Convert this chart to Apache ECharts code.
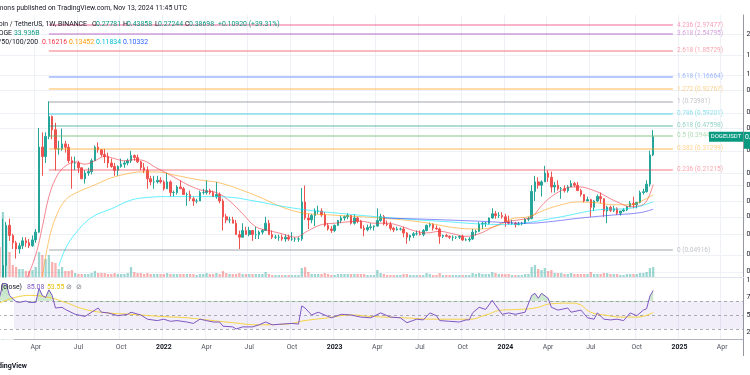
<!DOCTYPE html>
<html><head><meta charset="utf-8">
<script src="https://cdn.jsdelivr.net/npm/echarts@6/dist/echarts.min.js"></script>
<style>html,body{margin:0;padding:0;background:#fff;}#c{width:750px;height:375px;}</style>
</head><body><div id="c"></div>
<script>
// ---- data (weekly DOGE/USDT, first week 2021-01-18) ----
const firstWeek = [2021, 0, 18];
const weekCount = 227;
const opens = [
0.0098,0.0087,0.0370,0.0770,0.0640,0.0560,0.0500,0.0530,0.0580,0.0560,0.0530,0.0590,
0.0680,0.3210,0.2700,0.3900,0.5600,0.4400,0.3100,0.3100,0.3400,0.3200,0.2500,0.2400,
0.2400,0.2200,0.1800,0.2000,0.2050,0.2500,0.3200,0.3050,0.2800,0.2700,0.2400,0.2250,
0.2100,0.2250,0.2350,0.2400,0.2500,0.2750,0.2650,0.2450,0.2200,0.2100,0.1800,0.1700,0.1700,0.1750,
0.1700,0.1500,0.1700,0.1400,0.1400,0.1550,0.1500,0.1350,0.1350,0.1250,0.1200,0.1200,
0.1400,0.1400,0.1450,0.1400,0.1300,0.1350,0.1200,0.0900,0.0850,0.0850,0.0800,0.0650,
0.0620,0.0700,0.0650,0.0700,0.0650,0.0650,0.0680,0.0700,0.0800,0.0650,0.0620,0.0620,0.0620,0.0600,0.0620,0.0600,0.0600,0.0600,
0.0600,0.1180,0.0880,0.0850,0.0920,0.1000,0.1000,0.0930,0.0770,0.0720,
0.0700,0.0770,0.0840,0.0880,0.0900,0.0920,0.0800,0.0880,0.0830,0.0730,0.0710,0.0740,0.0750,0.0760,
0.0840,0.0900,0.0790,0.0780,0.0730,0.0710,0.0720,0.0720,0.0670,0.0620,0.0640,0.0660,0.0660,0.0650,
0.0700,0.0770,0.0780,0.0730,0.0720,0.0630,0.0640,0.0630,0.0620,0.0620,0.0620,0.0630,0.0590,0.0590,
0.0600,0.0680,0.0690,0.0790,0.0800,0.0800,0.0880,0.0950,0.0920,0.0920,
0.0900,0.0820,0.0800,0.0800,0.0780,0.0790,0.0800,0.0860,
0.0870,0.1430,0.1700,0.1600,0.1700,0.2000,0.1850,0.1550,0.1600,0.1500,0.1500,0.1450,0.1550,0.1650,
0.1600,0.1450,0.1350,0.1200,0.1230,0.1070,0.1200,0.1300,0.1250,0.1000,0.1070,0.1010,0.1040,0.0960,
0.1000,0.1020,0.1080,0.1150,0.1120,0.1170,0.1400,0.1420,0.1630,0.27781];
const highs = [
0.0102,0.0870,0.0820,0.0870,0.0660,0.0580,0.0560,0.0620,0.0620,0.0600,0.0640,0.0720,
0.4550,0.4200,0.4200,0.7400,0.5700,0.5000,0.3600,0.4500,0.3600,0.3400,0.2700,0.2700,
0.2500,0.2200,0.2100,0.2200,0.2600,0.3300,0.3500,0.3100,0.3100,0.2900,0.2600,0.2400,
0.2300,0.2600,0.2500,0.2600,0.3000,0.2800,0.2800,0.2500,0.2400,0.2250,0.1900,0.1900,0.1900,0.1850,
0.1750,0.2000,0.1750,0.1450,0.1600,0.1750,0.1550,0.1400,0.1450,0.1300,0.1250,0.1450,
0.1500,0.1750,0.1500,0.1450,0.1700,0.1400,0.1250,0.0950,0.0900,0.0900,0.0850,0.0700,
0.0800,0.0750,0.0750,0.0700,0.0750,0.0700,0.0720,0.0900,0.0850,0.0700,0.0650,0.0650,0.0650,0.0650,0.0650,0.0680,0.0620,0.0620,
0.1520,0.1590,0.0950,0.0950,0.1050,0.1100,0.1050,0.0980,0.0800,0.0760,
0.0780,0.0850,0.0920,0.0920,0.0960,0.0930,0.0940,0.0900,0.0850,0.0770,0.0780,0.0800,0.0770,0.1050,
0.0950,0.0930,0.0840,0.0820,0.0750,0.0750,0.0740,0.0750,0.0680,0.0650,0.0680,0.0700,0.0700,0.0720,
0.0780,0.0810,0.0800,0.0770,0.0740,0.0650,0.0660,0.0640,0.0640,0.0630,0.0640,0.0650,0.0610,0.0620,
0.0720,0.0710,0.0820,0.0820,0.0820,0.0890,0.1050,0.1000,0.0980,0.0980,
0.0950,0.0920,0.0850,0.0820,0.0820,0.0820,0.0880,0.0900,
0.1600,0.1900,0.1850,0.1750,0.2280,0.2100,0.2050,0.1700,0.1750,0.1550,0.1600,0.1600,0.1750,0.1700,
0.1700,0.1500,0.1350,0.1300,0.1250,0.1220,0.1350,0.1400,0.1260,0.1100,0.1100,0.1100,0.1070,0.1000,
0.1050,0.1100,0.1200,0.1300,0.1180,0.1450,0.1500,0.1750,0.3000,0.43858];
const lows = [
0.0076,0.0075,0.0290,0.0580,0.0500,0.0420,0.0460,0.0500,0.0520,0.0510,0.0520,0.0560,
0.0670,0.1900,0.2400,0.3700,0.3700,0.2100,0.2800,0.3000,0.2900,0.2400,0.1500,0.2100,
0.2000,0.1800,0.1650,0.1900,0.1950,0.2500,0.2900,0.2700,0.2400,0.2200,0.2200,0.1900,
0.1900,0.2200,0.2200,0.2300,0.2400,0.2500,0.2400,0.2100,0.2000,0.1500,0.1600,0.1500,0.1650,0.1650,
0.1450,0.1500,0.1300,0.1300,0.1350,0.1500,0.1350,0.1100,0.1200,0.1100,0.1150,0.1200,
0.1350,0.1350,0.1350,0.1300,0.1250,0.1150,0.0700,0.0800,0.0800,0.0800,0.0650,0.0500,
0.0620,0.0650,0.0630,0.0580,0.0600,0.0600,0.0650,0.0700,0.0650,0.0600,0.0600,0.0580,0.0580,0.0570,0.0580,0.0580,0.0570,0.0570,
0.0580,0.0850,0.0720,0.0800,0.0760,0.0950,0.0900,0.0750,0.0700,0.0670,
0.0680,0.0760,0.0800,0.0840,0.0860,0.0780,0.0780,0.0800,0.0730,0.0630,0.0690,0.0710,0.0700,0.0750,
0.0820,0.0770,0.0760,0.0700,0.0680,0.0700,0.0700,0.0620,0.0550,0.0580,0.0610,0.0640,0.0640,0.0630,
0.0690,0.0740,0.0700,0.0710,0.0550,0.0610,0.0620,0.0600,0.0580,0.0600,0.0600,0.0580,0.0580,0.0570,
0.0590,0.0640,0.0680,0.0720,0.0750,0.0780,0.0870,0.0870,0.0880,0.0870,
0.0750,0.0780,0.0780,0.0740,0.0770,0.0770,0.0790,0.0830,
0.0860,0.1200,0.1500,0.1300,0.1700,0.1700,0.1400,0.1400,0.1450,0.1250,0.1400,0.1400,0.1550,0.1550,
0.1450,0.1300,0.1170,0.1200,0.0900,0.1000,0.1180,0.1150,0.0900,0.0800,0.0980,0.0980,0.0930,0.0920,
0.0980,0.1000,0.1080,0.1050,0.1050,0.1150,0.1350,0.1400,0.1560,0.27244];
const closes = [
0.0087,0.0370,0.0770,0.0640,0.0560,0.0500,0.0530,0.0580,0.0560,0.0530,0.0590,0.0680,
0.3210,0.2700,0.3900,0.5600,0.4400,0.3100,0.3100,0.3400,0.3200,0.2500,0.2400,0.2400,
0.2200,0.1800,0.2000,0.2050,0.2500,0.3200,0.3050,0.2800,0.2700,0.2400,0.2250,0.2100,
0.2250,0.2350,0.2400,0.2500,0.2750,0.2650,0.2450,0.2200,0.2100,0.1800,0.1700,0.1700,0.1750,0.1700,
0.1500,0.1700,0.1400,0.1400,0.1550,0.1500,0.1350,0.1350,0.1250,0.1200,0.1200,0.1400,
0.1400,0.1450,0.1400,0.1300,0.1350,0.1200,0.0900,0.0850,0.0850,0.0800,0.0650,0.0620,
0.0700,0.0650,0.0700,0.0650,0.0650,0.0680,0.0700,0.0800,0.0650,0.0620,0.0620,0.0620,0.0600,0.0620,0.0600,0.0600,0.0600,0.0600,
0.1180,0.0880,0.0850,0.0920,0.1000,0.1000,0.0930,0.0770,0.0720,0.0700,
0.0770,0.0840,0.0880,0.0900,0.0920,0.0800,0.0880,0.0830,0.0730,0.0710,0.0740,0.0750,0.0760,0.0840,
0.0900,0.0790,0.0780,0.0730,0.0710,0.0720,0.0720,0.0670,0.0620,0.0640,0.0660,0.0660,0.0650,0.0700,
0.0770,0.0780,0.0730,0.0720,0.0630,0.0640,0.0630,0.0620,0.0620,0.0620,0.0630,0.0590,0.0590,0.0600,
0.0680,0.0690,0.0790,0.0800,0.0800,0.0880,0.0950,0.0920,0.0920,0.0900,
0.0820,0.0800,0.0800,0.0780,0.0790,0.0800,0.0860,0.0870,
0.1430,0.1700,0.1600,0.1700,0.2000,0.1850,0.1550,0.1600,0.1500,0.1500,0.1450,0.1550,0.1650,0.1600,
0.1450,0.1350,0.1200,0.1230,0.1070,0.1200,0.1300,0.1250,0.1000,0.1070,0.1010,0.1040,0.0960,0.1000,
0.1020,0.1080,0.1150,0.1120,0.1170,0.1400,0.1420,0.1630,0.2780,0.38698];
const volumes = [
30,65,50,25,12,10,8,8,6,6,7,10,
25,22,18,22,15,14,8,10,6,6,7,4,
3,3,3,3,4,6,4,4,4,3,3,4,
3,3,3,4,10,5,4,4,3,4,3,3,3,3,
3,4,3,3,3,3,3,3,3,3,2,3,
3,4,3,3,4,3,6,4,3,3,3,4,
3,3,3,3,3,3,3,5,3,2,2,2,2,2,2,2,2,2,
9,10,5,3,3,3,3,4,3,2,
2,3,3,3,3,3,3,3,3,3,2,2,2,7,
4,3,2,2,2,2,2,3,3,2,2,2,2,2,
4,3,2,2,4,2,2,2,2,2,2,2,2,2,
4,3,4,3,3,3,5,4,3,3,
3,3,2,2,2,2,3,3,
10,12,8,7,9,6,7,4,4,4,3,3,4,3,
3,3,3,3,5,3,3,3,4,4,3,3,3,2,
2,3,3,3,3,4,4,5,9,10];
// moving averages: [week index, price]
const sma20 = [[8,0.028],[11,0.045],[13,0.075],[15,0.13],[17,0.18],[19,0.215],[21,0.235],[23,0.245],[26,0.235],[29,0.25],[32,0.27],[35,0.26],[38,0.25],[41,0.255],[44,0.25],[47,0.225],[50,0.205],[54,0.18],[58,0.158],[62,0.145],[66,0.14],[70,0.12],[74,0.095],[78,0.075],[82,0.07],[86,0.066],[90,0.062],[94,0.07],[98,0.078],[102,0.08],[106,0.082],[110,0.083],[114,0.08],[118,0.08],[122,0.076],[126,0.07],[130,0.067],[134,0.069],[138,0.066],[142,0.063],[146,0.066],[150,0.074],[154,0.082],[158,0.085],[162,0.09],[165,0.11],[168,0.13],[171,0.145],[174,0.155],[177,0.155],[180,0.148],[183,0.138],[186,0.125],[189,0.115],[192,0.108],[195,0.11],[197,0.12],[199,0.16216]];
const sma50 = [[13,0.030],[15,0.059],[17,0.088],[20,0.122],[24,0.142],[29,0.161],[34,0.183],[40,0.20],[43,0.204],[48,0.204],[53,0.193],[61,0.176],[67,0.167],[76,0.139],[91,0.098],[101,0.093],[116,0.088],[128,0.082],[140,0.073],[146,0.072],[152,0.077],[156,0.087],[161,0.090],[166,0.102],[171,0.112],[176,0.118],[182,0.116],[187,0.112],[192,0.112],[196,0.122],[199,0.13452]];
const sma100 = [[18,0.0365],[20,0.050],[23,0.066],[28,0.089],[34,0.104],[40,0.122],[45,0.128],[51,0.13],[57,0.13],[63,0.13],[71,0.128],[76,0.122],[91,0.104],[107,0.094],[122,0.087],[137,0.082],[146,0.079],[156,0.078],[161,0.081],[171,0.090],[182,0.102],[192,0.105],[199,0.11834]];
const sma200 = [[117,0.088],[130,0.086],[146,0.083],[161,0.080],[167,0.082],[177,0.088],[187,0.093],[195,0.097],[199,0.10332]];
const rsi = [[0,76],[1,95],[2,95],[3,78],[5,69],[6,68],[8,70],[9,68],[11,68],[12,88],[13,78],[14,75],[15,86],[16,78],[17,60],[19,61],[20,58],[23,51],[26,48],[30,60],[31,54],[33,53],[36,49],[39,51],[40,54],[43,50],[45,44],[48,42],[50,44],[52,41],[54,42],[57,40],[59,38],[61,44],[63,42],[65,40],[67,40],[68,34],[71,33],[72,30],[74,33],[77,33],[79,36],[81,40],[83,36],[86,37],[89,38],[91,37],[92,63],[93,60],[95,50],[97,54],[99,50],[101,46],[104,51],[107,50],[110,47],[113,46],[116,53],[119,47],[122,46],[124,39],[127,44],[129,43],[131,53],[133,49],[134,42],[137,41],[140,40],[142,43],[143,43],[144,53],[146,61],[148,58],[150,71],[151,64],[153,51],[155,53],[157,51],[160,54],[162,78],[163,81],[164,74],[165,81],[167,74],[168,61],[170,57],[173,60],[174,54],[177,57],[179,46],[181,44],[182,53],[184,44],[186,43],[188,44],[190,42],[192,53],[194,49],[196,57],[197,59],[198,77],[199,85.08]];
const rsiMa = [[0,67],[9,78],[14,76],[20,68],[26,58],[33,53],[40,51],[49,48],[57,46],[63,43],[71,39],[79,36],[87,37],[93,42],[100,46],[107,50],[113,48],[123,46],[133,44],[143,44],[148,50],[153,57],[158,58],[163,60],[168,66],[174,67],[176,66],[180,54],[184,50],[190,47],[194,47],[199,53.55]];
const tickDates = ['2021-04-05','2021-07-05','2021-10-04','2022-01-03','2022-04-04','2022-07-04','2022-10-03','2023-01-02','2023-04-03','2023-07-03','2023-10-02','2024-01-01','2024-04-01','2024-07-01','2024-10-07','2025-01-06','2025-04-07'];
const tickLabels = ['Apr','Jul','Oct','2022','Apr','Jul','Oct','2023','Apr','Jul','Oct','2024','Apr','Jul','Oct','2025','Apr'];
const priceTicks = [2.5,1.7,1.2,0.9,0.6,0.45,0.3,0.2,0.16,0.12,0.09,0.065,0.045,0.033];
const rsiTicks = [100,75,50,25];
const fibRatios = ['4.236','3.618','2.618','1.618','1.272','1','0.786','0.618','0.5','0.382','0.236','0'];
const fibPrices = [2.97477,2.54795,1.85729,1.16664,0.92767,0.73981,0.59201,0.47598,0.39449,0.31299,0.21215,0.04916];
const fibColors = ['#e91e63','#9c27b0','#f23645','#2962ff','#ff9800','#787b86','#00bcd4','#089981','#4caf50','#ff9800','#f23645','#787b86'];
const fibStart = 15, fibEnd = 205;

// ---- build ----
const cats = [];
for (let i = 0; i < weekCount; i++) {
  const d = new Date(Date.UTC(firstWeek[0], firstWeek[1], firstWeek[2] + 7 * i));
  cats.push(d.toISOString().slice(0, 10));
}
const tickMap = {};
tickDates.forEach((d, i) => tickMap[d] = tickLabels[i]);
const isTick = (i, v) => tickMap[v] !== undefined;
const UP = '#26a69a', DN = '#ef5350';
const FONT = 'Roboto';
const FS = 6.9;
const candles = opens.map((o, i) => [o, closes[i], lows[i], highs[i]]);
const L = -2, R = 6.5;
const G = (top, height) => ({ left: L, right: R, top: top, height: height, containLabel: false, outerBoundsMode: 'none' });

const fibLines = fibPrices.map((p, i) => [
  { coord: [cats[fibStart], p], lineStyle: { color: fibColors[i], width: 1.5, opacity: 0.45, type: 'solid' },
    label: { show: true, position: 'end', distance: 4, formatter: fibRatios[i] + ' (' + p.toFixed(5) + ')', color: fibColors[i], fontSize: 6.5, fontFamily: FONT } },
  { coord: [cats[fibEnd], p] }
]);

const xBase = (gi, show) => ({
  type: 'category', gridIndex: gi, data: cats, boundaryGap: true,
  axisLine: { show: false }, axisTick: { show: false }, axisLabel: { show: false },
  splitLine: { show: show, interval: isTick, lineStyle: { color: '#eef1f6', width: 1 } }
});

const chart = echarts.init(document.getElementById('c'), null, { renderer: 'canvas' });
chart.setOption({
  animation: false,
  backgroundColor: '#ffffff',
  grid: [G(15, 262), G(278, 61), G(200, 77), G(278, 23)],
  xAxis: [
    Object.assign(xBase(0, true), { axisLine: { show: true, lineStyle: { color: '#e0e3eb' } } }),
    Object.assign(xBase(1, true), {
      axisLine: { show: true, lineStyle: { color: '#b2b5be' } },
      axisLabel: { show: true, interval: isTick, margin: 5, fontSize: FS, fontFamily: FONT, color: '#50535e',
        formatter: v => { const t = tickMap[v]; if (t === undefined) return ''; return /^\d{4}$/.test(t) ? '{b|' + t + '}' : t; },
        rich: { b: { fontWeight: 'bold', fontSize: FS, fontFamily: FONT, color: '#131722' } } }
    }),
    xBase(2, false),
    xBase(3, false)
  ],
  yAxis: [
    { type: 'log', logBase: 10, gridIndex: 0, position: 'right', min: 0.0300, max: 3.57,
      axisLine: { show: true, lineStyle: { color: '#9598a1' } },
      axisTick: { show: false, customValues: priceTicks },
      axisLabel: { customValues: priceTicks, margin: 3, fontSize: FS, fontFamily: FONT, color: '#131722', formatter: v => (+v).toFixed(5) },
      splitLine: { show: true, lineStyle: { color: '#eef1f6' } } },
    { type: 'value', gridIndex: 1, position: 'right', min: 15.7, max: 102.9,
      axisLine: { show: true, lineStyle: { color: '#9598a1' } },
      axisTick: { show: false, customValues: rsiTicks },
      axisLabel: { customValues: rsiTicks, margin: 3, fontSize: FS, fontFamily: FONT, color: '#131722', formatter: v => (+v).toFixed(2) },
      splitLine: { show: false } },
    { type: 'value', gridIndex: 2, min: 0, max: 77, show: false, splitLine: { show: false } },
    { type: 'value', gridIndex: 3, min: 70, max: 102.9, show: false, splitLine: { show: false } }
  ],
  series: [
    { type: 'bar', xAxisIndex: 2, yAxisIndex: 2, data: volumes, barWidth: '70%', z: 1, silent: true,
      itemStyle: { color: p => closes[p.dataIndex] >= opens[p.dataIndex] ? 'rgba(38,166,154,0.45)' : 'rgba(239,83,80,0.45)' } },
    { type: 'candlestick', xAxisIndex: 0, yAxisIndex: 0, data: candles, barWidth: '62%', z: 2, clip: true,
      itemStyle: { color: UP, color0: DN, borderColor: UP, borderColor0: DN, borderWidth: 1 },
      markLine: { silent: true, symbol: 'none', animation: false, data: fibLines } },
    { type: 'line', xAxisIndex: 0, yAxisIndex: 0, data: sma20, smooth: 0.4, showSymbol: false, z: 3, lineStyle: { color: '#f23645', width: 1, opacity: 0.6 } },
    { type: 'line', xAxisIndex: 0, yAxisIndex: 0, data: sma50, smooth: 0.4, showSymbol: false, z: 3, lineStyle: { color: '#ff9800', width: 1, opacity: 0.55 } },
    { type: 'line', xAxisIndex: 0, yAxisIndex: 0, data: sma100, smooth: 0.4, showSymbol: false, z: 3, lineStyle: { color: '#00e5ff', width: 1, opacity: 0.6 } },
    { type: 'line', xAxisIndex: 0, yAxisIndex: 0, data: sma200, smooth: 0.4, showSymbol: false, z: 3, lineStyle: { color: '#3f3ff5', width: 1, opacity: 0.6 } },
    { type: 'line', xAxisIndex: 3, yAxisIndex: 3, data: rsi, showSymbol: false, z: 5, silent: true,
      lineStyle: { opacity: 0 },
      areaStyle: { origin: 'start', color: new echarts.graphic.LinearGradient(0, 0, 0, 1, [
        { offset: 0, color: 'rgba(76,175,80,0.55)' }, { offset: 1, color: 'rgba(76,175,80,0.03)' }]) } },
    { type: 'line', xAxisIndex: 1, yAxisIndex: 1, data: rsiMa, smooth: 0.5, showSymbol: false, z: 6, lineStyle: { color: '#f5d33f', width: 1 } },
    { type: 'line', xAxisIndex: 1, yAxisIndex: 1, data: rsi, showSymbol: false, z: 7, lineStyle: { color: '#7e57c2', width: 1 },
      markArea: { silent: true, itemStyle: { color: 'rgba(126,87,194,0.1)' }, data: [[{ yAxis: 30 }, { yAxis: 70 }]] },
      markLine: { silent: true, symbol: 'none', label: { show: false },
        lineStyle: { color: '#9598a1', type: [3, 3], width: 1, opacity: 0.8 },
        data: [{ yAxis: 70 }, { yAxis: 50 }, { yAxis: 30 }] } }
  ]
});

// overlay texts
const lastIdx = closes.length - 1;
const tagY = chart.convertToPixel({ gridIndex: 0 }, [cats[lastIdx], closes[lastIdx]])[1];
const paneBottom = chart.convertToPixel({ gridIndex: 0 }, [cats[0], 0.0300])[1];
const T = (x, y, text, color, extra) => Object.assign({ type: 'text', x: x, y: y, z: 100,
  style: Object.assign({ text: text, fill: color, font: FS + 'px Roboto', textVerticalAlign: 'middle' }, extra || {}) });
const teal = '#089981';
chart.setOption({ graphic: [
  // hides candle wicks that run below the price pane
  { type: 'rect', x: 0, y: paneBottom + 0.5, z: 3, silent: true, shape: { width: 14, height: 62 }, style: { fill: '#ffffff' } },
  { type: 'rect', x: 0, y: paneBottom + 62.5, z: 3, silent: true, shape: { width: 14, height: 30 }, style: { fill: '#ffffff' } },
  { type: 'line', z: 100, silent: true, shape: { x1: 743.5, y1: paneBottom + 62, x2: 743.5, y2: 356 }, style: { stroke: '#9598a1', lineWidth: 1 } },
  T(187, 8, 'mons published on TradingView.com, Nov 13, 2024 11:45 UTC', '#131722', { textAlign: 'right' }),
  T(87, 24, 'Dogecoin / TetherUS, 1W, BINANCE', '#131722', { textAlign: 'right' }),
  T(92, 24, 'O', '#131722'), T(96, 24, '0.27781', teal),
  T(123, 24, 'H', '#131722'), T(127, 24, '0.43858', teal),
  T(155, 24, 'L', '#131722'), T(158, 24, '0.27244', teal),
  T(185, 24, 'C', '#131722'), T(189, 24, '0.38698', teal),
  T(218, 24, '+0.10920 (+39.31%)', teal),
  T(12, 33, 'Vol · DOGE', '#131722', { textAlign: 'right' }), T(14, 33, '33.936B', teal),
  T(38, 42, 'SMA 20/50/100/200', '#131722', { textAlign: 'right' }),
  T(42, 42, '0.16216', '#f23645'), T(69, 42, '0.13452', '#ff9800'), T(96, 42, '0.11834', '#00bcd4'), T(123, 42, '0.10332', '#2962ff'),
  T(22, 287, 'RSI 14 (close)', '#131722', { textAlign: 'right' }),
  T(27, 287, '85.08', '#7e57c2'), T(47, 287, '53.55', '#e5c100'),
  T(66, 287, '⊘', '#787b86'), T(76, 287, '⊘', '#787b86'),
  T(27, 366, 'TradingView', '#131722', { textAlign: 'right', font: 'bold 7px Roboto' }),
  { type: 'rect', x: 709, y: tagY - 5, z: 100, shape: { width: 34.5, height: 10 }, style: { fill: teal } },
  T(726, tagY, 'DOGEUSDT', '#ffffff', { textAlign: 'center', font: '6px Roboto' }),
  { type: 'rect', x: 744, y: tagY - 5, z: 100, shape: { width: 8, height: 17 }, style: { fill: teal } },
  T(745, tagY, '0.38698', '#ffffff', { font: FS + 'px Roboto' })
]});
</script></body></html>
